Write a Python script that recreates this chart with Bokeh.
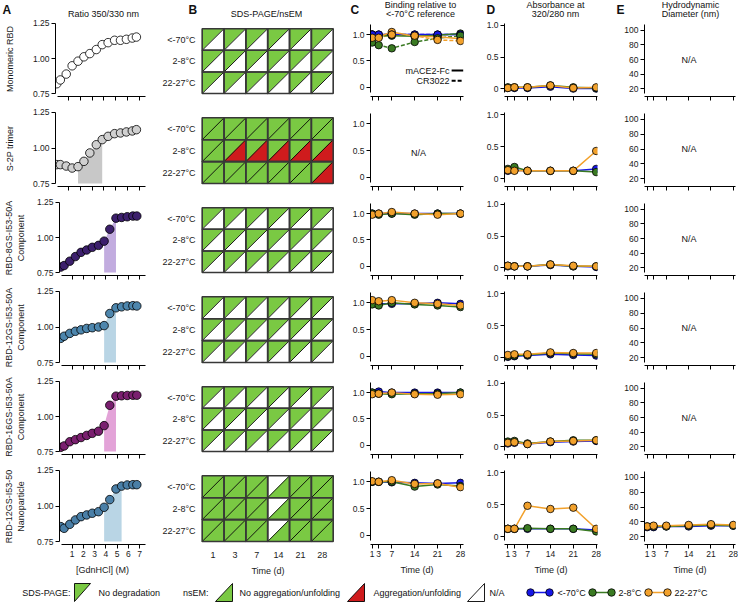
from bokeh.plotting import figure
from bokeh.layouts import column, row
from bokeh.models import Range1d, FixedTicker, Label, CustomLabelingPolicy
from bokeh.core.properties import value
from bokeh.embed import file_html
from bokeh.resources import INLINE

FONT = "Liberation Sans"

# ------------------------------------------------------------------ data
SAMPLES = ["Monomeric RBD", "S-2P trimer", "RBD-8GS-I53-50A\nComponent",
           "RBD-12GS-I53-50A\nComponent", "RBD-16GS-I53-50A\nComponent",
           "RBD-12GS-I53-50\nNanoparticle"]
TEMPS = ["<-70°C", "2-8°C", "22-27°C"]
DAYS = [1, 3, 7, 14, 21, 28]
GDN_TICKS = [1, 2, 3, 4, 5, 6, 7]

# Panel A: ratio 350/330 nm vs [GdnHCl]
GDN_M = [0, 0.3, 0.8, 1.3, 1.8, 2.3, 2.8, 3.35, 3.85, 4.35, 4.9, 5.4, 5.9, 6.4, 6.75]
RATIO_MONO = [0.82, 0.847, 0.889, 0.948, 0.981, 1.012, 1.035, 1.064, 1.099, 1.113, 1.13, 1.13, 1.137, 1.146, 1.153]
RATIO_S2P = [0.883, 0.883, 0.873, 0.859, 0.869, 0.906, 0.965, 1.023, 1.059, 1.082, 1.101, 1.106, 1.113, 1.12, 1.129]
RATIO_8GS = [0.789, 0.80, 0.831, 0.864, 0.894, 0.911, 0.93, 0.944, 0.974, 1.059, 1.138, 1.143, 1.148, 1.153, 1.153]
RATIO_12GS = [0.92, 0.935, 0.955, 0.97, 0.98, 0.99, 0.995, 1.0, 1.01, 1.095, 1.135, 1.142, 1.148, 1.15, 1.148]
RATIO_16GS = [0.78, 0.79, 0.82, 0.835, 0.85, 0.865, 0.88, 0.895, 0.935, 1.08, 1.145, 1.148, 1.15, 1.152, 1.152]
RATIO_NP = [0.855, 0.843, 0.871, 0.902, 0.925, 0.937, 0.949, 0.96, 0.991, 1.045, 1.12, 1.14, 1.148, 1.15, 1.15]
RATIO_ROWS = [RATIO_MONO, RATIO_S2P, RATIO_8GS, RATIO_12GS, RATIO_16GS, RATIO_NP]
TRANSITION_START = [None, 1.8, 3.85, 3.85, 3.85, 3.85]
TRANSITION_END = [None, 3.85, 4.9, 4.9, 4.9, 5.4]

# Panel B: SDS-PAGE (upper-left) / nsEM (lower-right); G=ok, R=aggregation, N=N/A
SDS_MONO = ["GGGGGG", "GGGGGG", "GGGGGG"]
NSEM_MONO = ["NNNNNN", "NNNNNN", "NNNNNN"]
SDS_S2P = ["GGGGGG", "GGGGGG", "GGGGGG"]
NSEM_S2P = ["GGGGGG", "GRRRRR", "GGGGGR"]
SDS_COMP = ["GGGGGG", "GGGGGG", "GGGGGG"]
NSEM_COMP = ["NNNNNN", "NNNNNN", "NNNNNN"]
SDS_NP = ["GGGNGG", "GGGNGG", "GGGNGG"]
NSEM_NP = ["GGGGGG", "GGGGGG", "GGGGGG"]
SDS_ROWS = [SDS_MONO, SDS_S2P, SDS_COMP, SDS_COMP, SDS_COMP, SDS_NP]
NSEM_ROWS = [NSEM_MONO, NSEM_S2P, NSEM_COMP, NSEM_COMP, NSEM_COMP, NSEM_NP]

# Panel C: binding relative to <-70°C reference (per temperature)
ACE2_MONO = [[1.0, 1.0, 1.0, 1.0, 1.0, 1.0], [1.0, 0.98, 0.98, 0.97, 0.99, 1.02], [1.0, 0.96, 1.05, 0.97, 0.96, 0.92]]
CR3022_MONO = [[1.0, 1.0, 1.0, 1.0, 1.0, 1.0], [0.85, 0.8, 0.74, 0.86, 0.93, 0.98], [0.94, 0.94, 1.0, 0.98, 0.9, 0.88]]
ACE2_8GS = [[1.0, 1.0, 1.0, 1.0, 1.0, 1.0], [1.0, 0.98, 1.0, 0.98, 1.0, 1.0], [0.98, 1.0, 1.03, 1.0, 0.98, 1.0]]
ACE2_12GS = [[1.0, 0.98, 0.98, 0.98, 1.0, 0.98], [0.97, 0.95, 1.0, 0.97, 0.95, 0.92], [1.05, 1.03, 1.05, 1.0, 0.98, 0.95]]
ACE2_16GS = [[1.0, 1.02, 1.0, 1.0, 1.0, 1.0], [1.0, 0.98, 0.97, 0.98, 0.98, 1.0], [0.97, 0.98, 1.0, 0.97, 0.96, 0.97]]
ACE2_NP = [[1.0, 1.0, 0.99, 0.98, 0.97, 0.98], [1.0, 1.0, 1.0, 0.91, 0.95, 0.92], [1.01, 1.0, 1.03, 0.96, 0.97, 0.9]]
ACE2_ROWS = [ACE2_MONO, None, ACE2_8GS, ACE2_12GS, ACE2_16GS, ACE2_NP]
CR3022_ROWS = [CR3022_MONO, None, None, None, None, None]

# Panel D: absorbance 320/280 nm
ABS_MONO = [[0.01, 0.01, 0.01, 0.03, 0.0, 0.0], [0.02, 0.02, 0.02, 0.05, 0.02, 0.01], [0.01, 0.02, 0.02, 0.05, 0.01, 0.02]]
ABS_S2P = [[0.12, 0.13, 0.12, 0.12, 0.12, 0.15], [0.15, 0.18, 0.12, 0.12, 0.12, 0.1], [0.13, 0.12, 0.12, 0.12, 0.12, 0.43]]
ABS_8GS = [[0.02, 0.02, 0.02, 0.04, 0.02, 0.01], [0.03, 0.02, 0.02, 0.05, 0.02, 0.02], [0.03, 0.02, 0.02, 0.05, 0.03, 0.02]]
ABS_12GS = [[0.01, 0.02, 0.03, 0.05, 0.04, 0.03], [0.02, 0.03, 0.04, 0.07, 0.06, 0.05], [0.04, 0.05, 0.05, 0.08, 0.07, 0.07]]
ABS_16GS = [[0.05, 0.06, 0.04, 0.07, 0.08, 0.09], [0.08, 0.09, 0.05, 0.08, 0.1, 0.1], [0.06, 0.07, 0.04, 0.08, 0.09, 0.1]]
ABS_NP = [[0.12, 0.12, 0.12, 0.12, 0.12, 0.1], [0.12, 0.12, 0.13, 0.12, 0.12, 0.08], [0.12, 0.12, 0.48, 0.43, 0.45, 0.12]]
ABS_ROWS = [ABS_MONO, ABS_S2P, ABS_8GS, ABS_12GS, ABS_16GS, ABS_NP]

# Panel E: hydrodynamic diameter (nm)
DLS_NP = [[33, 33, 34, 34, 35, 35], [34, 34, 34, 35, 36, 35], [34, 35, 35, 36, 37, 36]]
DLS_ROWS = [None, None, None, None, None, DLS_NP]

TITLE_LINE1 = ["", "", "Binding relative to", "Absorbance at", "Hydrodynamic"]
TITLE_LINE2 = ["Ratio 350/330 nm", "SDS-PAGE/nsEM", "<-70°C reference", "320/280 nm", "Diameter (nm)"]
LETTERS = ["A", "B", "C", "D", "E"]
LEGEND_LABELS = ["SDS-PAGE:", "No degradation", "nsEM:", "No aggregation/unfolding",
                 "Aggregation/unfolding", "N/A"]

# ------------------------------------------------------------------ style / layout
TEMP_COLORS = ["#1616e6", "#3a7a22", "#f2a12c"]
A_FILL = ["#ffffff", "#d0d0d0", "#3c1f6c", "#4d86ad", "#7a1f6f", "#4a7fa7"]
A_SHADE = [None, "#c8c8c8", "#c2acdf", "#b9d5e5", "#e3a3d8", "#b9d5e5"]
STATUS_COLOR = {"G": "#7ac943", "R": "#cf1b1d", "N": "#ffffff"}

COL_W = [150, 190, 135, 135, 128]
COL_BL = [55, 50, 30, 29, 34]
COL_BR = [5, 5, 12, 13, 3]
ROW_H = [85, 90, 89, 90, 89, 116]
ROW_BT = [2, 6, 6, 6, 6, 6]
ROW_BB = [7, 8, 7, 8, 7, 34]
NROWS = 6
HEADER_H = 19
# header text positions (pixels, from the top-left of the header strip)
LETTER_X = [2, 188, 350, 486, 616]
TITLE_X = [103, 266, 420, 555, 690]

A_X = (-0.11, 7.52); A_Y = (0.729, 1.264)
B_X = (-0.078, 6.106); B_Y = (-0.137, 3.333)
C_X = (0.49, 28.93); C_Y = (-0.174, 1.249)
D_X = (-0.03, 28.4); D_Y = (-0.125, 1.0625)
E_X = (0.16, 28.68); E_Y = (9.6, 112.1)


def make_fig(c, r, xr, yr):
    p = figure(width=COL_W[c], height=ROW_H[r], x_range=Range1d(*xr), y_range=Range1d(*yr),
               output_backend="svg", toolbar_location=None,
               min_border_left=COL_BL[c], min_border_right=COL_BR[c],
               min_border_top=ROW_BT[r], min_border_bottom=ROW_BB[r])
    p.outline_line_color = None
    p.grid.visible = False
    return p


def style_axis(ax, labels=True, tick_out=4, size="8.5px", standoff=2):
    ax.axis_line_color = "black"
    ax.axis_line_width = 1
    ax.major_tick_line_color = "black"
    ax.major_tick_out = tick_out
    ax.major_tick_in = 0
    ax.minor_tick_line_color = None
    ax.minor_tick_out = 0
    ax.minor_tick_in = 0
    ax.major_label_text_font = FONT
    ax.major_label_text_color = "#1a1a1a"
    if labels:
        ax.major_label_text_font_size = size
        ax.major_label_standoff = standoff
    else:
        # ticks only, no tick labels (hidden through a labeling policy)
        ax.major_label_text_font_size = "2px"
        ax.major_label_standoff = 0
        ax.major_label_policy = CustomLabelingPolicy(code="if (false) yield 0")
    ax.axis_label_text_font = FONT
    ax.axis_label_text_font_size = "9px"
    ax.axis_label_text_font_style = "normal"
    ax.axis_label_text_color = "#1a1a1a"


def add_label(p, x, y, text, size="9px", align="center"):
    p.add_layout(Label(x=x, y=y, text=text, text_font=FONT, text_font_size=size,
                       text_align=align, text_baseline="middle", text_color="#111111"))


def series_panel(p, rows_data, size=7.5):
    for ti in range(3):
        p.line(DAYS, rows_data[ti], line_color=TEMP_COLORS[ti], line_width=1.5)
    for ti in range(3):
        p.scatter(DAYS, rows_data[ti], size=size, fill_color=TEMP_COLORS[ti],
                  line_color="black", line_width=0.8)


# ------------------------------------------------------------------ header strip
hd = figure(width=738, height=HEADER_H, x_range=Range1d(0, 738), y_range=Range1d(HEADER_H, 0),
            output_backend="svg", toolbar_location=None, min_border=0,
            x_axis_type=None, y_axis_type=None)
hd.outline_line_color = None
hd.grid.visible = False
hkw = dict(text_font=value(FONT), text_baseline="middle", text_color="#111111")
hd.text(x=LETTER_X, y=[9] * 5, text=LETTERS, text_align="left", text_font_size="12px",
        text_font_style="bold", **hkw)
hd.text(x=TITLE_X[2:], y=[4.5] * 3, text=TITLE_LINE1[2:], text_align="center", text_font_size="9px", **hkw)
hd.text(x=TITLE_X[:2], y=[13, 13], text=TITLE_LINE2[:2], text_align="center", text_font_size="9px", **hkw)
hd.text(x=TITLE_X[2:], y=[13.5] * 3, text=TITLE_LINE2[2:], text_align="center", text_font_size="9px", **hkw)

rows_out = []
for r in range(NROWS):
    bottom = r == NROWS - 1
    figs = []

    # ---------------- A
    p = make_fig(0, r, A_X, A_Y)
    style_axis(p.xaxis[0], labels=bottom)
    style_axis(p.yaxis[0])
    p.xaxis.ticker = FixedTicker(ticks=GDN_TICKS)
    p.xaxis.bounds = (0.05, 7.5)
    p.yaxis.ticker = FixedTicker(ticks=[0.75, 1.0, 1.25])
    p.yaxis.major_label_overrides = {0.75: "0.75", 1: "1.00", 1.25: "1.25"}
    p.yaxis.bounds = (0.75, 1.25)
    p.yaxis.axis_label = SAMPLES[r]
    p.yaxis.axis_label_standoff = 8 if "\n" in SAMPLES[r] else 15
    if bottom:
        p.xaxis.axis_label = "[GdnHCl] (M)"
        p.xaxis.axis_label_standoff = 5
    ys = RATIO_ROWS[r]
    if TRANSITION_START[r] is not None:
        sx = [x for x in GDN_M if TRANSITION_START[r] <= x <= TRANSITION_END[r]]
        sy = [y for x, y in zip(GDN_M, ys) if TRANSITION_START[r] <= x <= TRANSITION_END[r]]
        p.varea(x=sx, y1=[0.75] * len(sx), y2=sy, fill_color=A_SHADE[r])
    p.scatter(GDN_M, ys, size=8.5, fill_color=A_FILL[r], line_color="black", line_width=0.8)
    figs.append(p)

    # ---------------- B
    p = make_fig(1, r, B_X, B_Y)
    style_axis(p.yaxis[0], tick_out=0, size="9px", standoff=5)
    p.yaxis.axis_line_color = None
    p.yaxis.major_tick_line_color = None
    p.yaxis.ticker = FixedTicker(ticks=[0.5, 1.5, 2.5])
    p.yaxis.major_label_overrides = {2.5: TEMPS[0], 1.5: TEMPS[1], 0.5: TEMPS[2]}
    if bottom:
        style_axis(p.xaxis[0], tick_out=0, size="9px", standoff=7)
        p.xaxis.axis_line_color = None
        p.xaxis.major_tick_line_color = None
        p.xaxis.ticker = FixedTicker(ticks=[j + 0.5 for j in range(len(DAYS))])
        p.xaxis.major_label_overrides = {j + 0.5: str(d) for j, d in enumerate(DAYS)}
        p.xaxis.axis_label = "Time (d)"
        p.xaxis.axis_label_standoff = 5
    else:
        p.xaxis.visible = False
    txs, tys, tfill = [], [], []
    d0x, d0y, d1x, d1y = [], [], [], []
    ql, qr, qb, qt = [], [], [], []
    for ti in range(3):
        y0 = 2 - ti
        for j in range(len(DAYS)):
            s_code = SDS_ROWS[r][ti][j]
            n_code = NSEM_ROWS[r][ti][j]
            txs.append([j, j, j + 1]); tys.append([y0, y0 + 1, y0 + 1]); tfill.append(STATUS_COLOR[s_code])
            txs.append([j, j + 1, j + 1]); tys.append([y0, y0, y0 + 1]); tfill.append(STATUS_COLOR[n_code])
            d0x.append(j); d0y.append(y0); d1x.append(j + 1); d1y.append(y0 + 1)
            ql.append(j); qr.append(j + 1); qb.append(y0); qt.append(y0 + 1)
    p.patches(txs, tys, fill_color=tfill, line_color=tfill, line_width=0.5)
    p.segment(d0x, d0y, d1x, d1y, line_color="black", line_width=0.9)
    p.quad(left=ql, right=qr, bottom=qb, top=qt, fill_color=None, line_color="#383838", line_width=1.6)
    figs.append(p)

    # ---------------- C
    p = make_fig(2, r, C_X, C_Y)
    style_axis(p.xaxis[0], labels=bottom)
    style_axis(p.yaxis[0])
    p.xaxis.ticker = FixedTicker(ticks=DAYS)
    p.yaxis.ticker = FixedTicker(ticks=[0, 0.5, 1.0])
    p.yaxis.major_label_overrides = {0: "0", 0.5: "0.5", 1: "1.0"}
    p.yaxis.bounds = (-0.1, 1.2)
    if bottom:
        p.xaxis.axis_label = "Time (d)"
        p.xaxis.axis_label_standoff = 5
    if ACE2_ROWS[r] is None:
        add_label(p, 15.2, 0.46, "N/A")
    else:
        if CR3022_ROWS[r] is not None:
            for ti in range(3):
                p.line(DAYS, CR3022_ROWS[r][ti], line_color=TEMP_COLORS[ti], line_width=1.5, line_dash="4 2")
        series_panel(p, ACE2_ROWS[r])
        if CR3022_ROWS[r] is not None:
            for ti in range(3):
                p.scatter(DAYS, CR3022_ROWS[r][ti], size=7.5, fill_color=TEMP_COLORS[ti],
                          line_color="black", line_width=0.8)
    if r == 0:
        add_label(p, 24.65, 0.318, "mACE2-Fc", align="right")
        add_label(p, 24.65, 0.125, "CR3022", align="right")
        p.segment([25.3], [0.318], [28.9], [0.318], line_color="black", line_width=2)
        p.segment([25.3], [0.125], [28.9], [0.125], line_color="black", line_width=2, line_dash="4 2")
    figs.append(p)

    # ---------------- D
    p = make_fig(3, r, D_X, D_Y)
    style_axis(p.xaxis[0], labels=bottom)
    style_axis(p.yaxis[0])
    p.xaxis.ticker = FixedTicker(ticks=DAYS)
    p.yaxis.ticker = FixedTicker(ticks=[0, 0.5, 1.0])
    p.yaxis.major_label_overrides = {0: "0", 0.5: "0.5", 1: "1.0"}
    p.yaxis.bounds = (-0.06, 1.03)
    if bottom:
        p.xaxis.axis_label = "Time (d)"
        p.xaxis.axis_label_standoff = 5
    series_panel(p, ABS_ROWS[r])
    figs.append(p)

    # ---------------- E
    p = make_fig(4, r, E_X, E_Y)
    style_axis(p.xaxis[0], labels=bottom)
    style_axis(p.yaxis[0])
    p.xaxis.ticker = FixedTicker(ticks=DAYS)
    p.yaxis.ticker = FixedTicker(ticks=[20, 40, 60, 80, 100])
    p.yaxis.bounds = (14, 108)
    if bottom:
        p.xaxis.axis_label = "Time (d)"
        p.xaxis.axis_label_standoff = 5
    if DLS_ROWS[r] is None:
        add_label(p, 14.1, 60, "N/A")
    else:
        series_panel(p, DLS_ROWS[r])
    figs.append(p)

    rows_out.append(row(*figs))

# ------------------------------------------------------------------ legend strip
lg = figure(width=738, height=26, x_range=Range1d(0, 738), y_range=Range1d(0, 26),
            output_backend="svg", toolbar_location=None, min_border=0,
            x_axis_type=None, y_axis_type=None)
lg.outline_line_color = None
lg.grid.visible = False
TY = 12
tkw = dict(text_font=value(FONT), text_font_size="9px", text_baseline="middle", text_color="#111111")
lg.text(x=[70, 208], y=[TY, TY], text=[LEGEND_LABELS[0], LEGEND_LABELS[2]], text_align="right", **tkw)
lg.text(x=[98, 239, 373, 489], y=[TY] * 4,
        text=[LEGEND_LABELS[1], LEGEND_LABELS[3], LEGEND_LABELS[4], LEGEND_LABELS[5]],
        text_align="left", **tkw)
lg.text(x=[557, 618, 674], y=[TY] * 3, text=TEMPS, text_align="left", **tkw)
# triangle keys
lg.patches(xs=[[74, 90, 74], [215, 232, 232], [347, 364, 364], [467, 484, 484]],
           ys=[[21, 21, 3], [3, 3, 21], [3, 3, 21], [3, 3, 21]],
           fill_color=[STATUS_COLOR["G"], STATUS_COLOR["G"], STATUS_COLOR["R"], STATUS_COLOR["N"]],
           line_color="black", line_width=0.9)
# temperature keys
for (x0, x1), col in zip([(530, 549), (592, 611), (648, 667)], TEMP_COLORS):
    lg.line([x0, x1], [TY, TY], line_color=col, line_width=1.5)
    lg.scatter([x0, x1], [TY, TY], size=7.5, fill_color=col, line_color="black", line_width=0.8)

layout = column(hd, *rows_out, lg)
open("out.html", "w").write(file_html(layout, INLINE))
